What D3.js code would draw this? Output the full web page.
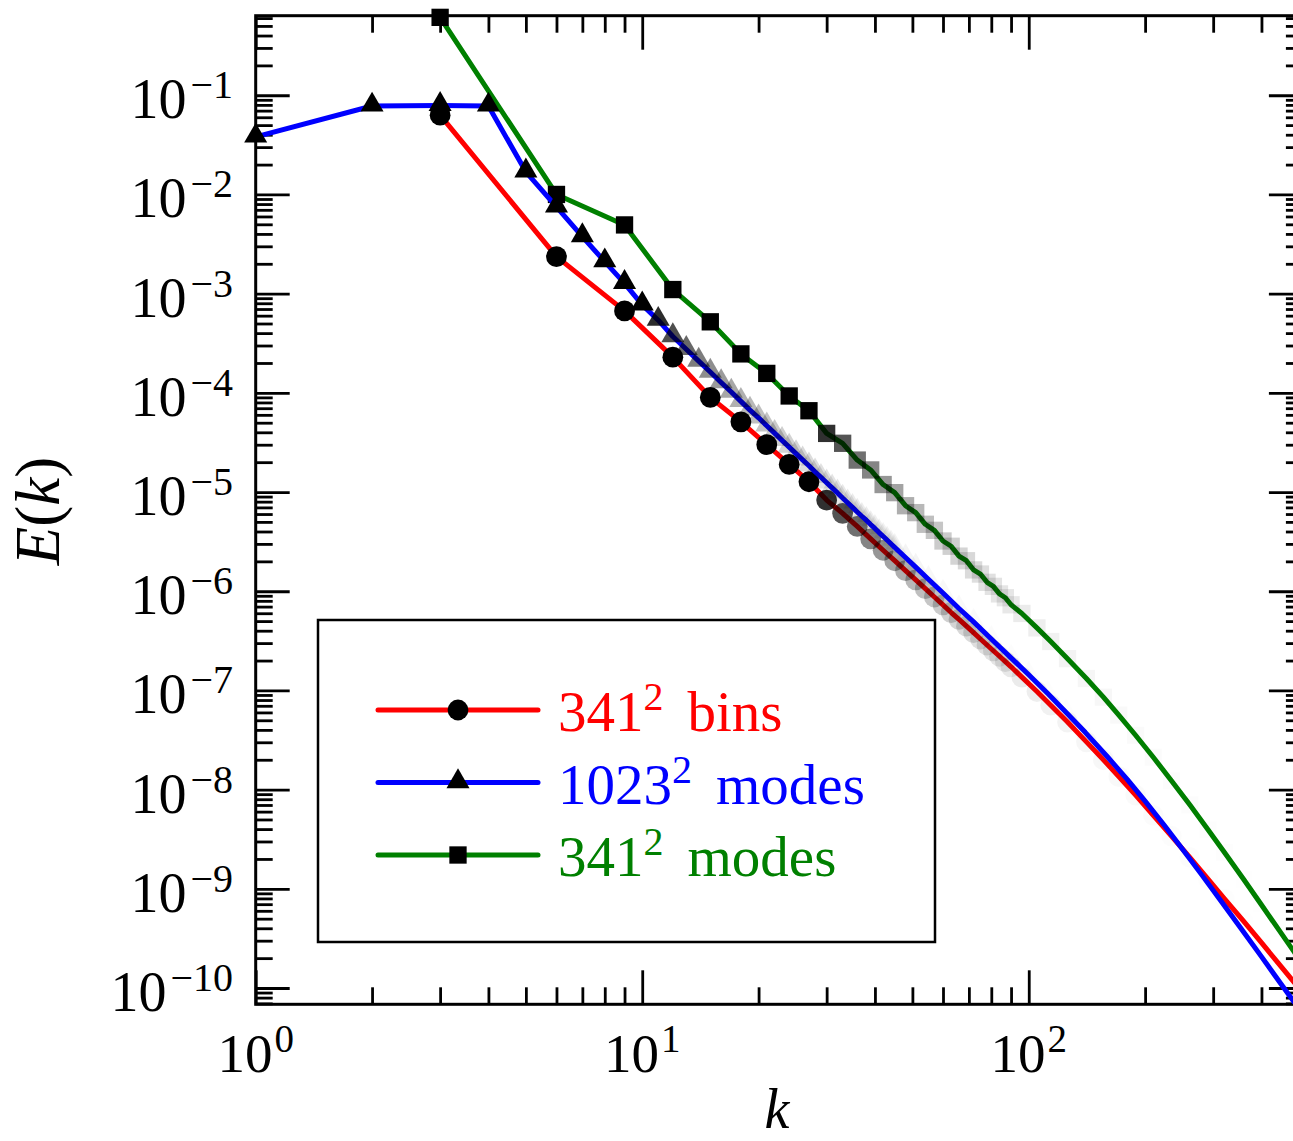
<!DOCTYPE html>
<html>
<head>
<meta charset="utf-8">
<script src="https://cdn.jsdelivr.net/npm/d3@7"></script>
<style>
  body { margin: 0; background: #fff; }
  text { font-family: "Liberation Serif", "DejaVu Serif", serif; }
</style>
</head>
<body>
<script>
// data
var kRed = [3, 6, 9, 12, 15, 18, 21, 24, 27, 30, 33, 36, 39, 42, 45, 48, 51, 54, 57, 60,
  63, 66, 69, 72, 75, 78, 81, 84, 87, 90, 96, 105, 114, 126, 141, 156, 171, 189, 210,
  234, 261, 291, 321, 360, 399, 441, 486, 510];
var eRed = [0.063, 2.36e-3, 6.7e-4, 2.29e-4, 9.0e-5, 5.1e-5, 3.0e-5, 1.9e-5, 1.27e-5, 8.3e-6,
  6.1e-6, 4.5e-6, 3.37e-6, 2.59e-6, 2.03e-6, 1.61e-6, 1.30e-6, 1.06e-6, 8.75e-7, 7.3e-7,
  6.1e-7, 5.2e-7, 4.44e-7, 3.82e-7, 3.30e-7, 2.87e-7, 2.51e-7, 2.21e-7, 1.95e-7, 1.73e-7,
  1.36e-7, 9.75e-8, 7.1e-8, 4.8e-8, 3.03e-8, 2.0e-8, 1.35e-8, 8.8e-9, 5.5e-9,
  3.4e-9, 2.07e-9, 1.25e-9, 7.9e-10, 4.7e-10, 2.9e-10, 1.8e-10, 1.14e-10, 8.9e-11];

var kBlue = [1, 2, 3, 4, 5, 6, 7, 8, 9, 10, 11, 12, 13, 14, 15, 16, 17, 18, 19, 20,
  21, 22, 23, 24, 25, 26, 27, 28, 29, 30, 31, 32, 33, 34, 35, 36, 37, 38, 39, 40,
  41, 42, 43, 44, 45, 48, 51, 55, 60, 66, 72, 80, 90, 100, 112, 125, 140, 160, 180,
  200, 225, 250, 280, 315, 350, 400, 450, 511];
var eBlue = [0.038, 0.078, 0.079, 0.078, 0.0169, 7.5e-3, 3.76e-3, 2.1e-3, 1.27e-3, 7.7e-4,
  5.4e-4, 3.7e-4, 2.75e-4, 2.09e-4, 1.62e-4, 1.27e-4, 1.02e-4, 8.2e-5, 6.7e-5, 5.6e-5,
  4.65e-5, 3.92e-5, 3.32e-5, 2.84e-5, 2.44e-5, 2.11e-5, 1.84e-5, 1.60e-5, 1.41e-5, 1.24e-5,
  1.10e-5, 9.8e-6, 8.7e-6, 7.8e-6, 7.0e-6, 6.3e-6, 5.7e-6, 5.2e-6, 4.7e-6, 4.3e-6,
  3.9e-6, 3.58e-6, 3.28e-6, 3.01e-6, 2.77e-6, 2.19e-6, 1.75e-6, 1.32e-6, 9.6e-7, 6.7e-7,
  4.9e-7, 3.3e-7, 2.13e-7, 1.44e-7, 9.3e-8, 6.0e-8, 3.78e-8, 2.13e-8, 1.26e-8,
  7.65e-9, 4.3e-9, 2.51e-9, 1.39e-9, 7.46e-10, 4.25e-10, 2.07e-10, 1.09e-10, 5.5e-11];

var kGreen = kRed.slice();
var eGreen = [0.61, 0.0100, 4.93e-3, 1.10e-3, 5.2e-4, 2.47e-4, 1.57e-4, 9.3e-5, 6.6e-5, 3.9e-5,
  3.1e-5, 2.1e-5, 1.67e-5, 1.19e-5, 9.86e-6, 7.28e-6, 6.2e-6, 4.73e-6, 4.11e-6, 3.21e-6,
  2.84e-6, 2.26e-6, 2.03e-6, 1.64e-6, 1.49e-6, 1.23e-6, 1.12e-6, 9.4e-7, 8.6e-7, 7.3e-7,
  5.97e-7, 4.27e-7, 3.11e-7, 2.09e-7, 1.32e-7, 8.55e-8, 5.65e-8, 3.53e-8, 2.12e-8,
  1.23e-8, 7.03e-9, 3.94e-9, 2.32e-9, 1.24e-9, 6.98e-10, 3.99e-10, 2.31e-10, 1.75e-10];

var xMajor = [1, 10, 100];
var xLabels = ['0', '1', '2'];
var yExp = [-1, -2, -3, -4, -5, -6, -7, -8, -9, -10];

var legendNames = [
  {base: '341', sup: '2', rest: 'bins', color: 'red', marker: 'circle'},
  {base: '1023', sup: '2', rest: 'modes', color: 'blue', marker: 'triangle'},
  {base: '341', sup: '2', rest: 'modes', color: 'green', marker: 'square'}
];

// ---------------------------------------------------------------

var width = 1293, height = 1141;
var pLeft = 255.7, pRight = 1302.9, pTop = 15.7, pBottom = 1004.3;

var svg = d3.select('body')
  .append('svg')
  .attr('width', width)
  .attr('height', height);

var x = d3.scaleLog().domain([1, 512]).range([pLeft, pRight]);
var y = d3.scaleLog().domain([6.85e-11, 0.634]).range([pBottom, pTop]);

svg.append('clipPath').attr('id', 'plot')
  .append('rect')
  .attr('x', pLeft).attr('y', pTop)
  .attr('width', pRight - pLeft).attr('height', pBottom - pTop);

function pairs(ks, es) {
  return ks.map(function(k, i) { return {k: k, e: es[i]}; });
}
var red = pairs(kRed, eRed), blue = pairs(kBlue, eBlue), green = pairs(kGreen, eGreen);

var line = d3.line()
  .x(function(d) { return x(d.k); })
  .y(function(d) { return y(d.e); });

function fade(k0) {
  return function(d) { return Math.min(1, Math.pow(k0 / d.k, 2)); };
}

function symbolOf(type) {
  return type == 'circle' ? d3.symbolCircle : (type == 'triangle' ? d3.symbolTriangle : d3.symbolSquare);
}
var symbolSize = {circle: 340, triangle: 230, square: 300};

var plot = svg.append('g');

function drawLine(data, color) {
  plot.append('path')
    .datum(data)
    .attr('clip-path', 'url(#plot)')
    .attr('d', line)
    .attr('fill', 'none')
    .attr('stroke', color)
    .attr('stroke-width', 5)
    .attr('stroke-linejoin', 'round');
}

function drawMarkers(data, type, k0) {
  plot.append('g')
    .selectAll('path')
    .data(data)
    .enter()
    .append('path')
    .attr('d', d3.symbol().type(symbolOf(type)).size(symbolSize[type]))
    .attr('transform', function(d) {
      var dy = type == 'triangle' ? -1 : 0;
      return 'translate(' + x(d.k) + ',' + (y(d.e) + dy) + ')';
    })
    .attr('fill', '#000')
    .attr('fill-opacity', fade(k0));
}

drawLine(green, 'green');
drawMarkers(green, 'square', 27);
drawLine(red, 'red');
drawMarkers(red, 'circle', 27);
drawLine(blue, 'blue');
drawMarkers(blue, 'triangle', 10);

// ticks
var xMinor = [];
[1, 10, 100].forEach(function(b) {
  for (var m = 2; m <= 9; m++) if (b * m <= 512) xMinor.push(b * m);
});
var yMinor = [];
for (var p = -11; p <= 0; p++) {
  for (var m = 2; m <= 9; m++) {
    var v = m * Math.pow(10, p);
    if (v >= 6.85e-11 && v <= 0.634) yMinor.push(v);
  }
}
var yMajor = yExp.map(function(e) { return Math.pow(10, e); });

function addAxis(axis, tx, ty) {
  var g = svg.append('g')
    .attr('transform', 'translate(' + tx + ',' + ty + ')')
    .call(axis);
  g.select('.domain').remove();
  g.selectAll('text').remove();
  g.selectAll('line').attr('stroke', '#000').attr('stroke-width', 2.8);
}

addAxis(d3.axisBottom(x).tickValues(xMajor).tickSize(-34), 0, pBottom);
addAxis(d3.axisBottom(x).tickValues(xMinor).tickSize(-17), 0, pBottom);
addAxis(d3.axisTop(x).tickValues(xMajor).tickSize(-34), 0, pTop);
addAxis(d3.axisTop(x).tickValues(xMinor).tickSize(-17), 0, pTop);
addAxis(d3.axisLeft(y).tickValues(yMajor).tickSize(-34), pLeft, 0);
addAxis(d3.axisLeft(y).tickValues(yMinor).tickSize(-17), pLeft, 0);
addAxis(d3.axisRight(y).tickValues(yMajor).tickSize(-34), pRight, 0);
addAxis(d3.axisRight(y).tickValues(yMinor).tickSize(-17), pRight, 0);

svg.append('rect')
  .attr('x', pLeft).attr('y', pTop)
  .attr('width', pRight - pLeft).attr('height', pBottom - pTop)
  .attr('fill', 'none')
  .attr('stroke', '#000')
  .attr('stroke-width', 3);

// markers sit on top of the frame at the top edge
plot.raise();

// tick labels
var xl = svg.append('g').selectAll('text')
  .data(xMajor)
  .enter()
  .append('text')
  .attr('x', function(d) { return x(d); })
  .attr('y', 1072)
  .attr('text-anchor', 'middle')
  .attr('font-size', 55);
xl.append('tspan').text('10');
xl.append('tspan').attr('font-size', 39).attr('dy', -20).attr('dx', 2)
  .text(function(d, i) { return xLabels[i]; });

var yl = svg.append('g').selectAll('text')
  .data(yExp)
  .enter()
  .append('text')
  .attr('x', 233)
  .attr('y', function(d) { return y(Math.pow(10, d)) + 23; })
  .attr('text-anchor', 'end')
  .attr('font-size', 56);
yl.append('tspan').text('10');
yl.append('tspan').attr('font-size', 40).attr('dy', -20).attr('dx', 4)
  .text(function(d) { return '\u2212' + Math.abs(d); });

// axis titles
svg.append('text')
  .attr('x', 777).attr('y', 1128)
  .attr('text-anchor', 'middle')
  .attr('font-size', 56)
  .attr('font-style', 'italic')
  .text('k');

var yt = svg.append('text')
  .attr('transform', 'translate(59,511) rotate(-90)')
  .attr('text-anchor', 'middle')
  .attr('font-size', 63);
yt.append('tspan').attr('font-style', 'italic').text('E');
yt.append('tspan').text('(');
yt.append('tspan').attr('font-style', 'italic').text('k');
yt.append('tspan').text(')');

// legend
var legend = svg.append('g');
legend.append('rect')
  .attr('x', 318).attr('y', 620)
  .attr('width', 617).attr('height', 322)
  .attr('fill', '#fff')
  .attr('stroke', '#000')
  .attr('stroke-width', 2.5);

var rowY = d3.scaleLinear().domain([0, 2]).range([710, 855]);

var rows = legend.selectAll('g.row')
  .data(legendNames)
  .enter()
  .append('g')
  .attr('class', 'row')
  .attr('transform', function(d, i) { return 'translate(0,' + rowY(i) + ')'; });

rows.append('line')
  .attr('x1', 378).attr('x2', 538)
  .attr('stroke', function(d) { return d.color; })
  .attr('stroke-width', 5)
  .attr('stroke-linecap', 'round');

rows.append('path')
  .attr('transform', function(d) { return 'translate(458,' + (d.marker == 'triangle' ? -1 : 0) + ')'; })
  .attr('d', function(d) {
    return d3.symbol().type(symbolOf(d.marker)).size(symbolSize[d.marker])();
  })
  .attr('fill', '#000');

var lt = rows.append('text')
  .attr('x', 558).attr('y', 21)
  .attr('font-size', 57)
  .attr('fill', function(d) { return d.color; });
lt.append('tspan').text(function(d) { return d.base; });
lt.append('tspan').attr('font-size', 40).attr('dy', -21).text(function(d) { return d.sup; });
lt.append('tspan').attr('dy', 21).attr('dx', 24).text(function(d) { return d.rest; });
</script>
</body>
</html>
